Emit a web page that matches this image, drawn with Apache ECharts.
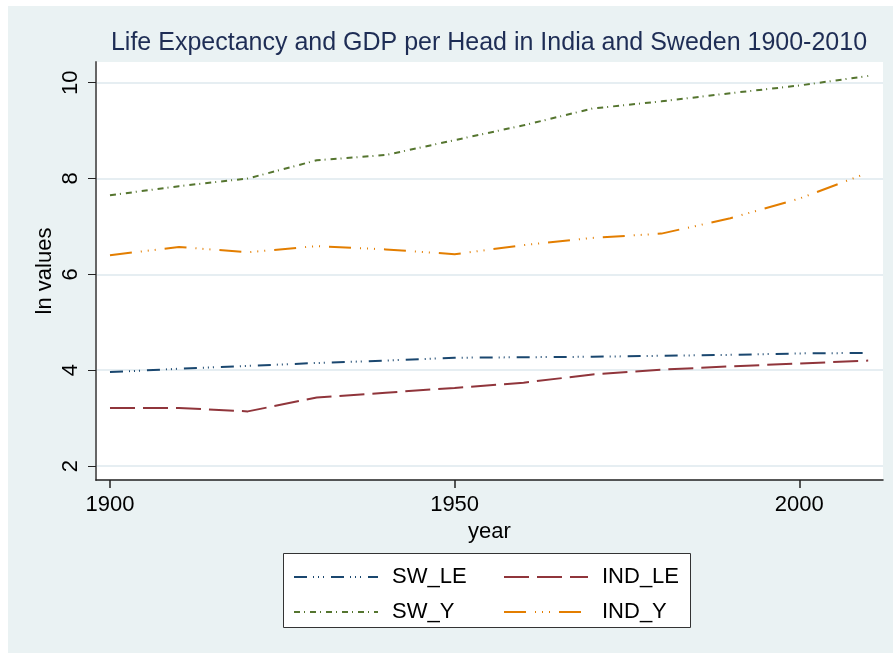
<!DOCTYPE html>
<html>
<head>
<meta charset="utf-8">
<script src="https://cdn.jsdelivr.net/npm/echarts@6/dist/echarts.min.js"></script>
<style>
html,body{margin:0;padding:0;background:#fff;}
#chart{width:893px;height:653px;}
</style>
</head>
<body>
<div id="chart"></div>
<script>
const years = [1900,1910,1920,1930,1940,1950,1960,1970,1980,1990,2000,2010];
const SW_LE  = [3.96,4.03,4.09,4.15,4.20,4.26,4.27,4.28,4.30,4.32,4.35,4.36];
const IND_LE = [3.21,3.21,3.14,3.43,3.53,3.63,3.74,3.91,4.01,4.08,4.14,4.20];
const SW_Y   = [7.65,7.84,8.00,8.38,8.49,8.80,9.11,9.46,9.61,9.78,9.94,10.14];
const IND_Y  = [6.40,6.57,6.46,6.59,6.52,6.42,6.61,6.76,6.85,7.17,7.58,8.12];
const xTicks = [1900,1950,2000];
const yTicks = [2,4,6,8,10];

const font = '"Liberation Sans", Arial, Helvetica, sans-serif';
const pair = (vals) => years.map((y,i)=>[y, vals[i]]);

const seriesDefs = [
  {name:'SW_LE',  data:SW_LE,  color:'#1a476f', dash:[13,6,1,4,1,4,1,7]},
  {name:'IND_LE', data:IND_LE, color:'#90353b', dash:[25,8]},
  {name:'SW_Y',   data:SW_Y,   color:'#55752f', dash:[6,4,1,5]},
  {name:'IND_Y',  data:IND_Y,  color:'#e37e00', dash:[22,9,1,6,1,6,1,9]}
];

const chart = echarts.init(document.getElementById('chart'), null, {renderer:'canvas'});

const legendText = {fontFamily:font, fontSize:22, color:'#000', lineHeight:22, padding:[0,0,0,9]};

chart.setOption({
  animation:false,
  backgroundColor:'#fff',
  graphic:[
    {type:'rect', z:-10, shape:{x:8,y:6,width:885,height:647}, style:{fill:'#EAF2F3'}, silent:true},
    {type:'rect', z:-5, shape:{x:283.5,y:553.5,width:407,height:74}, style:{fill:'#fff', stroke:'#333', lineWidth:1}, silent:true}
  ],
  title:{
    text:'Life Expectancy and GDP per Head in India and Sweden 1900-2010',
    left:489, textAlign:'center', top:31, padding:0,
    textStyle:{fontFamily:font, fontSize:25, fontWeight:'normal', color:'#1e2d55'}
  },
  grid:{left:96, top:62, right:10, bottom:173, show:true, backgroundColor:'#fff', borderWidth:0, containLabel:false},
  legend:[
    {orient:'vertical', left:293, top:566, padding:0, itemGap:13, itemWidth:84, itemHeight:14,
     itemStyle:{opacity:0},
     data:['SW_LE','SW_Y'], textStyle:legendText, selectedMode:false},
    {orient:'vertical', left:503, top:566, padding:0, itemGap:13, itemWidth:84, itemHeight:14,
     itemStyle:{opacity:0},
     data:['IND_LE','IND_Y'], textStyle:legendText, selectedMode:false}
  ],
  xAxis:{
    type:'value', min:1897.97, max:2012.15,
    name:'year', nameLocation:'middle', nameGap:38,
    nameTextStyle:{fontFamily:font, fontSize:22, color:'#000'},
    axisLine:{show:true, lineStyle:{color:'#222', width:1.5}},
    axisTick:{show:true, length:8, customValues:xTicks, lineStyle:{color:'#222', width:1.5}},
    axisLabel:{customValues:xTicks, margin:14, fontFamily:font, fontSize:22, color:'#000',
               formatter:(v)=>String(v)},
    splitLine:{show:false}
  },
  yAxis:{
    type:'value', min:1.7083, max:10.431,
    name:'ln values', nameLocation:'middle', nameGap:40, nameMoveOverlap:false,
    nameTextStyle:{fontFamily:font, fontSize:22, color:'#000'},
    axisLine:{show:true, lineStyle:{color:'#666', width:2}},
    axisTick:{show:true, length:8, customValues:yTicks, lineStyle:{color:'#222', width:1}},
    axisLabel:{customValues:yTicks, rotate:90, margin:14, fontFamily:font, fontSize:22, color:'#000',
               formatter:(v)=>String(v)},
    splitLine:{show:true, lineStyle:{color:'#E6EEF2', width:2}}
  },
  series: seriesDefs.map(s=>({
    name:s.name, type:'line', data:pair(s.data), symbol:'none', showSymbol:false,
    color:s.color,
    lineStyle:{color:s.color, width:2, type:s.dash},
    itemStyle:{color:s.color}
  }))
});
</script>
</body>
</html>
